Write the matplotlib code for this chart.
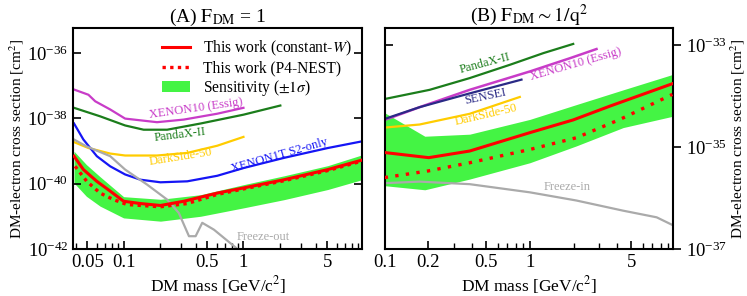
import numpy as np
import matplotlib.pyplot as plt
import matplotlib.ticker as mticker

plt.rcParams['font.family'] = ['Liberation Serif', 'DejaVu Serif']
plt.rcParams['mathtext.fontset'] = 'stix'

# ---------------- panel A: F_DM = 1 ----------------
a_x10_m = [0.0386, 0.0509, 0.058, 0.0773, 0.103, 0.19, 0.318, 0.605, 1.0]
a_x10_s = [-37.12, -37.28, -37.48, -37.73, -38.01, -38.12, -38.04, -37.86, -37.68]

a_pandax_m = [0.0386, 0.0637, 0.103, 0.147, 0.231, 0.439, 1.0, 2.03]
a_pandax_s = [-37.68, -37.94, -38.22, -38.35, -38.35, -38.16, -37.89, -37.61]

a_ds50_m = [0.0386, 0.0509, 0.0773, 0.103, 0.19, 0.34, 0.605, 1.0]
a_ds50_s = [-38.73, -38.91, -39.08, -39.14, -39.14, -39.06, -38.84, -38.57]

a_x1t_m = [0.0386, 0.0462, 0.0598, 0.0773, 0.103, 0.138, 0.203, 0.34, 0.605, 1.01, 2.19, 5.06, 9.95]
a_x1t_s = [-38.16, -38.65, -39.16, -39.47, -39.72, -39.88, -39.96, -39.93, -39.76, -39.52, -39.21, -38.91, -38.70]

a_w_m = [0.0386, 0.0462, 0.0598, 0.0773, 0.1, 0.138, 0.203, 0.318, 0.605, 1.01, 2.19, 5.06, 9.95]
a_w_s = [-39.16, -39.57, -39.93, -40.23, -40.54, -40.61, -40.67, -40.54, -40.29, -40.13, -39.88, -39.57, -39.27]

a_nest_m = [0.0394, 0.0493, 0.0637, 0.0824, 0.1067, 0.203, 0.34, 0.605, 1.01, 2.19, 5.06, 9.95]
a_nest_s = [-39.47, -39.93, -40.29, -40.49, -40.64, -40.71, -40.61, -40.33, -40.16, -39.91, -39.60, -39.30]

a_band_m = [0.0386, 0.049, 0.0637, 0.1, 0.203, 0.439, 1.01, 2.19, 5.06, 9.95]
a_band_hi = [-39.01, -39.42, -39.79, -40.40, -40.48, -40.34, -40.03, -39.76, -39.45, -39.11]
a_band_lo = [-39.98, -40.39, -40.69, -41.05, -41.15, -41.00, -40.74, -40.49, -40.18, -39.87]

a_fo_m = [0.0386, 0.049, 0.0773, 0.103, 0.157, 0.231, 0.289, 0.351, 0.399, 0.453, 0.567, 0.89, 1.2]
a_fo_s = [-38.65, -38.86, -39.16, -39.57, -40.03, -40.49, -40.90, -41.61, -41.61, -41.20, -41.41, -42.0, -42.43]

# ---------------- panel B: F_DM ~ 1/q^2 ----------------
b_pandax_m = [0.1, 0.204, 0.385, 0.727, 1.24, 1.99]
b_pandax_s = [-34.06, -33.88, -33.65, -33.39, -33.16, -32.98]

b_x10_m = [0.1, 0.174, 0.385, 1.0, 1.89, 2.88]
b_x10_s = [-34.47, -34.22, -33.88, -33.52, -33.26, -33.08]

b_sensei_m = [0.1, 0.174, 0.385, 0.876]
b_sensei_s = [-34.45, -34.22, -33.95, -33.68]

b_ds50_m = [0.1, 0.174, 0.385, 0.853]
b_ds50_s = [-34.62, -34.56, -34.35, -34.02]

b_w_m = [0.1, 0.201, 0.385, 1.0, 1.99, 3.56, 9.6]
b_w_s = [-35.11, -35.21, -35.08, -34.72, -34.47, -34.20, -33.76]

b_nest_m = [0.1, 0.2, 0.385, 1.0, 2.09, 4.18, 9.6]
b_nest_s = [-35.60, -35.47, -35.31, -35.05, -34.82, -34.46, -33.97]

b_band_m = [0.1, 0.189, 0.385, 1.0, 2.09, 4.4, 9.6]
b_band_hi = [-34.33, -34.79, -34.75, -34.46, -34.17, -33.88, -33.58]
b_band_lo = [-35.76, -35.84, -35.63, -35.31, -34.98, -34.62, -34.40]

b_fi_m = [0.1, 0.174, 0.385, 1.0, 2.09, 4.4, 7.48, 9.6]
b_fi_s = [-35.71, -35.68, -35.73, -35.89, -36.05, -36.25, -36.38, -36.53]

RED = '#ff0000'
BAND = '#44f444'
MAG = '#c83cc8'
DGREEN = '#1b7d1b'
GOLD = '#ffcc00'
BLUE = '#1515f5'
NAVY = '#2a2a86'
GRAY = '#aaaaaa'

W, H = 747, 296


def p(v):
    return 10.0 ** np.array(v)


fig = plt.figure(figsize=(W / 100, H / 100), dpi=100)
axA = fig.add_axes([0.098, 0.159, 0.387, 0.746])
axB = fig.add_axes([0.515, 0.159, 0.386, 0.746])


def label(x, y, s, c, rot=0):
    # curve labels placed in picture pixels (from top-left)
    fig.text(x / W, 1 - y / H, s, color=c, fontsize=9, rotation=rot,
             rotation_mode='anchor', ha='center', va='center')


# ---- panel A ----
axA.fill_between(a_band_m, p(a_band_lo), p(a_band_hi), color=BAND, lw=0,
                 label=r'Sensitivity ($\pm1\sigma$)', zorder=1)
axA.plot(a_x10_m, p(a_x10_s), color=MAG, lw=1.6)
axA.plot(a_pandax_m, p(a_pandax_s), color=DGREEN, lw=1.6)
axA.plot(a_ds50_m, p(a_ds50_s), color=GOLD, lw=1.6)
axA.plot(a_x1t_m, p(a_x1t_s), color=BLUE, lw=1.6)
axA.plot(a_fo_m, p(a_fo_s), color=GRAY, lw=1.6)
axA.plot(a_nest_m, p(a_nest_s), color=RED, lw=2.4, ls=(0, (1, 1.3)),
         label='This work (P4-NEST)', zorder=3)
axA.plot(a_w_m, p(a_w_s), color=RED, lw=2.2, label=r'This work (constant-$W$)', zorder=4)

label(196, 108, 'XENON10 (Essig)', MAG, 8)
label(180, 135, 'PandaX-II', DGREEN, 7)
label(181, 157, 'DarkSide-50', GOLD, 9)
label(279, 155, 'XENON1T S2-only', BLUE, 16)
label(263, 237, 'Freeze-out', GRAY)

axA.set_xscale('log')
axA.set_yscale('log')
axA.set_xlim(0.038, 9.8)
axA.set_ylim(1e-42, 10 ** -35.24)
axA.xaxis.set_major_locator(mticker.FixedLocator([0.05, 0.1, 0.5, 1, 5]))
axA.xaxis.set_major_formatter(mticker.FixedFormatter(['0.05', '0.1', '0.5', '1', '5']))
axA.xaxis.set_minor_locator(mticker.LogLocator(subs=np.arange(2, 10)))
axA.xaxis.set_minor_formatter(mticker.NullFormatter())
axA.yaxis.set_major_locator(mticker.FixedLocator([1e-42, 1e-40, 1e-38, 1e-36]))
axA.yaxis.set_minor_locator(mticker.NullLocator())
axA.tick_params(which='both', direction='in', top=False, right=True, labelsize=13.5)
axA.tick_params(which='major', length=6, width=1.2)
axA.tick_params(which='minor', length=4, width=1.0)
axA.set_xlabel(r'DM mass [GeV/c$^2$]', fontsize=12.5, labelpad=2)
axA.set_ylabel(r'DM-electron cross section [cm$^2$]', fontsize=11, labelpad=1)
axA.set_title(r'(A) $\mathrm{F_{DM}}$ = 1', fontsize=14, pad=4)
h, l = axA.get_legend_handles_labels()
order = [2, 1, 0]
axA.legend([h[i] for i in order], [l[i] for i in order], loc='upper right',
           frameon=False, fontsize=11.2, handlelength=1.8, borderaxespad=0.3,
           labelspacing=0.12, handletextpad=0.8)

# ---- panel B ----
axB.fill_between(b_band_m, p(b_band_lo), p(b_band_hi), color=BAND, lw=0, zorder=1)
axB.plot(b_pandax_m, p(b_pandax_s), color=DGREEN, lw=1.6)
axB.plot(b_x10_m, p(b_x10_s), color=MAG, lw=1.8)
axB.plot(b_sensei_m, p(b_sensei_s), color=NAVY, lw=1.6)
axB.plot(b_ds50_m, p(b_ds50_s), color=GOLD, lw=1.6)
axB.plot(b_fi_m, p(b_fi_s), color=GRAY, lw=1.6)
axB.plot(b_nest_m, p(b_nest_s), color=RED, lw=2.4, ls=(0, (1, 2.2)), zorder=3)
axB.plot(b_w_m, p(b_w_s), color=RED, lw=2.2, zorder=4)

label(485, 63, 'PandaX-II', DGREEN, 15)
label(576, 64, 'XENON10 (Essig)', MAG, 16)
label(485, 97, 'SENSEI', NAVY, 12)
label(486, 115, 'DarkSide-50', GOLD, 13)
label(567, 187, 'Freeze-in', GRAY)

axB.set_xscale('log')
axB.set_yscale('log')
axB.set_xlim(0.1, 9.7)
axB.set_ylim(1e-37, 10 ** -32.67)
axB.xaxis.set_major_locator(mticker.FixedLocator([0.1, 0.2, 0.5, 1, 5]))
axB.xaxis.set_major_formatter(mticker.FixedFormatter(['0.1', '0.2', '0.5', '1', '5']))
axB.xaxis.set_minor_locator(mticker.LogLocator(subs=np.arange(2, 10)))
axB.xaxis.set_minor_formatter(mticker.NullFormatter())
axB.yaxis.set_major_locator(mticker.FixedLocator([1e-37, 1e-35, 1e-33]))
axB.yaxis.set_minor_locator(mticker.NullLocator())
axB.yaxis.tick_right()
axB.yaxis.set_label_position('right')
axB.tick_params(axis='x', which='both', direction='in', top=False, labelsize=13.5)
axB.tick_params(axis='y', which='both', direction='out', left=False, right=True,
                labelsize=13.5)
axB.tick_params(which='major', length=6, width=1.2)
axB.tick_params(which='minor', length=4, width=1.0)
sec = axB.secondary_yaxis('left', functions=(lambda v: v, lambda v: v))
sec.yaxis.set_major_locator(mticker.FixedLocator([1e-37, 1e-35, 1e-33]))
sec.yaxis.set_minor_locator(mticker.NullLocator())
sec.tick_params(direction='in', length=6, width=1.2, labelleft=False)
sec.spines['left'].set_visible(False)
axB.set_xlabel(r'DM mass [GeV/c$^2$]', fontsize=12.5, labelpad=2)
axB.set_ylabel(r'DM-electron cross section [cm$^2$]', fontsize=11, labelpad=1)
axB.set_title(r'(B) $\mathrm{F_{DM}} \sim 1/\mathrm{q}^2$', fontsize=14, pad=4)

for ax in (axA, axB):
    for s in ax.spines.values():
        s.set_linewidth(1.5)

fig.savefig('out.png', dpi=100)
